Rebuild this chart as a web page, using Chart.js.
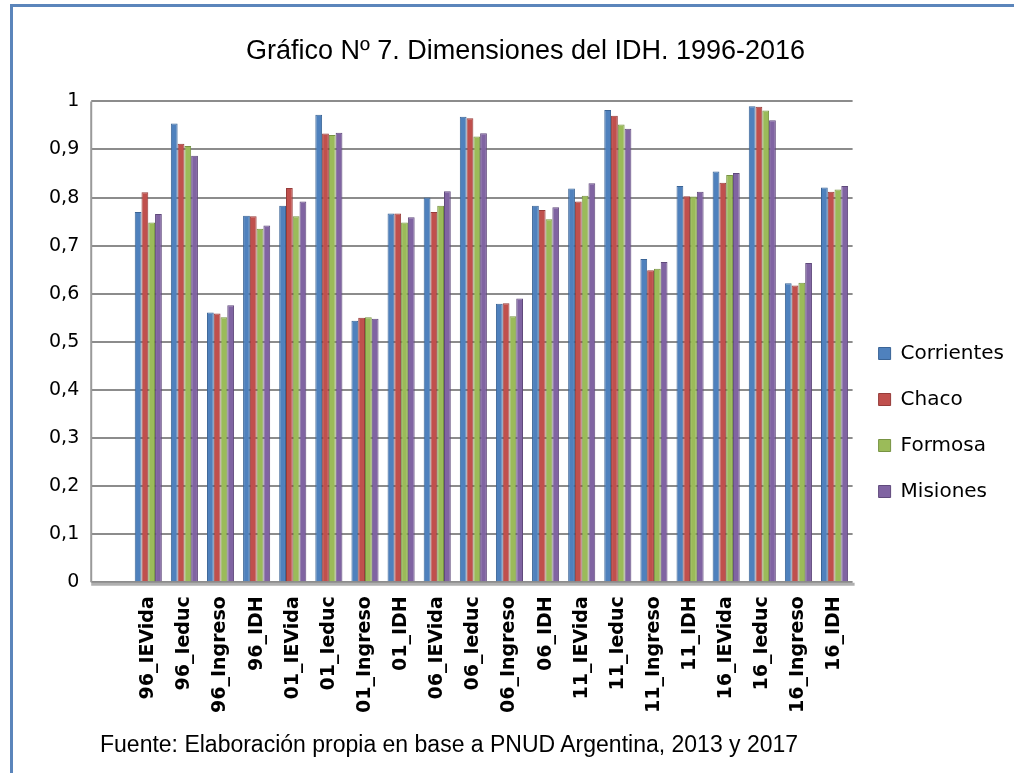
<!DOCTYPE html>
<html>
<head>
<meta charset="utf-8">
<script src="https://cdn.jsdelivr.net/npm/chart.js@4"></script>
<style>
	html, body { margin: 0; padding: 0; background: #ffffff; }
	#wrap { position: relative; width: 1014px; height: 773px; overflow: hidden; }
	#frame { position: absolute; left: 10px; top: 4px; right: -10px; bottom: -10px;
		border-left: 3px solid #5b85bb; border-top: 3px solid #5b85bb; pointer-events: none; }
	#fuente { position: absolute; left: 100px; top: 731px; font: 23px 'Liberation Sans', sans-serif; color: #000; }
</style>
</head>
<body>
<div id="wrap">
	<canvas id="idh" width="1014" height="773"></canvas>
	<div id="frame"></div>
	<div id="fuente">Fuente: Elaboración propia en base a PNUD Argentina, 2013 y 2017</div>
</div>
<script>
const labels = ['96_IEVida', '96_Ieduc', '96_Ingreso', '96_IDH',
	'01_IEVida', '01_Ieduc', '01_Ingreso', '01_IDH',
	'06_IEVida', '06_Ieduc', '06_Ingreso', '06_IDH',
	'11_IEVida', '11_Ieduc', '11_Ingreso', '11_IDH',
	'16_IEVida', '16_Ieduc', '16_Ingreso', '16_IDH'];

const corrientes = [0.770, 0.954, 0.561, 0.762, 0.783, 0.972, 0.544, 0.767, 0.800, 0.968,
	0.579, 0.783, 0.819, 0.982, 0.672, 0.824, 0.854, 0.990, 0.622, 0.821];
const chaco = [0.811, 0.912, 0.559, 0.761, 0.820, 0.933, 0.550, 0.767, 0.770, 0.965,
	0.580, 0.774, 0.792, 0.970, 0.649, 0.803, 0.831, 0.989, 0.617, 0.812];
const formosa = [0.748, 0.907, 0.551, 0.735, 0.761, 0.930, 0.551, 0.748, 0.783, 0.927,
	0.553, 0.755, 0.804, 0.952, 0.652, 0.802, 0.847, 0.981, 0.623, 0.817];
const misiones = [0.766, 0.887, 0.576, 0.742, 0.792, 0.935, 0.548, 0.759, 0.813, 0.934,
	0.590, 0.780, 0.830, 0.943, 0.666, 0.812, 0.851, 0.961, 0.664, 0.824];

const tickLen = 39;

// back wall + floor lines of the old 3D style
const wallPlugin = {
	id: 'wall',
	beforeDatasetsDraw(chart) {
		const ctx = chart.ctx;
		const a = chart.chartArea;
		const x0 = a.left - tickLen;
		ctx.save();
		ctx.strokeStyle = '#9a9a9a';
		ctx.lineWidth = 2;
		ctx.beginPath();
		ctx.moveTo(x0, a.top);
		ctx.lineTo(x0, a.bottom);
		ctx.stroke();
		ctx.strokeStyle = '#b0b0b0';
		ctx.lineWidth = 3;
		ctx.beginPath();
		ctx.moveTo(x0, a.bottom + 2);
		ctx.lineTo(a.right + 2, a.bottom + 2);
		ctx.stroke();
		ctx.restore();
	}
};

function serie(label, data, color, edge) {
	return {
		label: label,
		data: data,
		backgroundColor: color,
		borderColor: edge,
		borderWidth: 1,
		categoryPercentage: 0.75,
		barPercentage: 1.0
	};
}

const config_idh = {
	type: 'bar',
	data: {
		labels: labels,
		datasets: [
			serie('Corrientes', corrientes, '#4f81bd', '#3a6496'),
			serie('Chaco', chaco, '#c0504d', '#963c3a'),
			serie('Formosa', formosa, '#9bbb59', '#779343'),
			serie('Misiones', misiones, '#8064a2', '#604a7c')
		]
	},
	plugins: [wallPlugin],
	options: {
		responsive: false,
		animation: false,
		layout: {
			padding: { left: 37, right: 0, top: 20, bottom: 46 }
		},
		plugins: {
			title: {
				display: true,
				text: 'Gráfico Nº 7. Dimensiones del IDH. 1996-2016',
				color: '#000',
				font: { family: 'Liberation Sans', size: 27, weight: 'normal' },
				padding: { top: 15, bottom: 34 }
			},
			legend: {
				position: 'right',
				// empty title only pushes the entries down
				title: {
					display: true,
					text: ' ',
					font: { size: 10 },
					padding: { top: 0, bottom: 86 }
				},
				labels: {
					color: '#000',
					boxWidth: 12,
					boxHeight: 12,
					padding: 26,
					font: { family: 'DejaVu Sans', size: 20 }
				}
			},
			tooltip: { enabled: false }
		},
		scales: {
			x: {
				grid: { display: false, drawTicks: false },
				border: { display: false },
				ticks: {
					color: '#000',
					maxRotation: 90,
					minRotation: 90,
					padding: 14,
					autoSkip: false,
					font: { family: 'DejaVu Sans', size: 19, weight: 'bold' }
				}
			},
			y: {
				min: 0,
				max: 1,
				grid: {
					color: '#8c8c8c',
					lineWidth: 2,
					drawTicks: true,
					tickLength: tickLen
				},
				border: { display: false },
				ticks: {
					stepSize: 0.1,
					color: '#000',
					padding: 12,
					font: { family: 'DejaVu Sans', size: 19 },
					callback: function(value) {
						const v = Math.round(value * 10) / 10;
						if (v === 0 || v === 1) {
							return String(v);
						}
						return v.toFixed(1).replace('.', ',');
					}
				}
			}
		}
	}
};

const idh = new Chart(
	document.getElementById('idh'),
	config_idh
);
</script>
</body>
</html>
